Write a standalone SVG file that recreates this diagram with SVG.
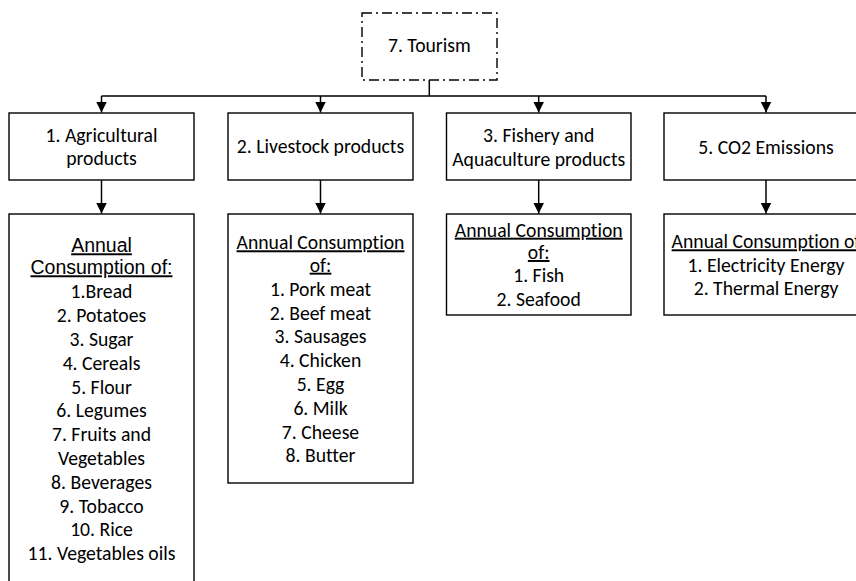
<svg xmlns="http://www.w3.org/2000/svg" width="856" height="581" viewBox="0 0 856 581">
  <style>
    .box { fill: #ffffff; stroke: #000000; stroke-width: 1.4; }
    .dash { fill: #ffffff; stroke: #000000; stroke-width: 1.4; stroke-dasharray: 10 4 2 4; }
    .wire { fill: none; stroke: #000000; stroke-width: 1.5; }
    text { font-family: Carlito, Lato, "Open Sans", sans-serif; font-size: 19.7px; fill: #000000; text-anchor: middle; font-variant-ligatures: none; }
    .hd { text-decoration: underline; }
    .arial { font-family: "Liberation Sans", Arial, sans-serif; font-size: 19.5px; }
  </style>
  <defs>
    <marker id="arrow" markerUnits="userSpaceOnUse" markerWidth="12" markerHeight="12" viewBox="0 0 12 12" refX="11" refY="6" orient="auto">
      <path d="M0,0.5 L11,6 L0,11.5 Z" fill="#000000"/>
    </marker>
  </defs>

  <!-- connectors -->
  <g id="connectors">
    <path class="wire" d="M429.3,80 V96 M101.5,96 H766"/>
    <path class="wire" d="M101.5,96 V112.5" marker-end="url(#arrow)"/>
    <path class="wire" d="M320.5,96 V112.5" marker-end="url(#arrow)"/>
    <path class="wire" d="M538.7,96 V112.5" marker-end="url(#arrow)"/>
    <path class="wire" d="M766,96 V112.5" marker-end="url(#arrow)"/>
    <path class="wire" d="M101.5,180 V213.5" marker-end="url(#arrow)"/>
    <path class="wire" d="M320.5,180 V213.5" marker-end="url(#arrow)"/>
    <path class="wire" d="M538.7,180 V213.5" marker-end="url(#arrow)"/>
    <path class="wire" d="M766,180 V213.5" marker-end="url(#arrow)"/>
  </g>

  <!-- root -->
  <g id="tourism">
    <rect class="dash" x="362" y="13" width="135" height="67"/>
    <text x="429.3" y="52.3">7. Tourism</text>
  </g>

  <!-- categories -->
  <g id="agricultural">
    <rect class="box" x="9" y="113" width="185" height="67"/>
    <text x="101.5" y="141.7">1. Agricultural</text>
    <text x="101.5" y="164.5">products</text>
  </g>
  <g id="livestock">
    <rect class="box" x="228" y="113" width="185" height="67"/>
    <text x="320.5" y="153.3">2. Livestock products</text>
  </g>
  <g id="fishery">
    <rect class="box" x="446.5" y="113" width="184.5" height="67"/>
    <text x="538.7" y="142.3">3. Fishery and</text>
    <text x="538.7" y="166">Aquaculture products</text>
  </g>
  <g id="co2">
    <rect class="box" x="664" y="113" width="210" height="67"/>
    <text x="766" y="154">5. CO2 Emissions</text>
  </g>

  <!-- consumption lists -->
  <g id="agricultural-list">
    <rect class="box" x="9" y="214" width="185" height="380"/>
    <text class="hd arial" x="101.5" y="252.3">Annual</text>
    <text class="hd arial" x="101.5" y="274.3">Consumption of:</text>
    <text x="101.5" y="298.3">1.Bread</text>
    <text x="101.5" y="322.1">2. Potatoes</text>
    <text x="101.5" y="345.9">3. Sugar</text>
    <text x="101.5" y="369.7">4. Cereals</text>
    <text x="101.5" y="393.5">5. Flour</text>
    <text x="101.5" y="417.3">6. Legumes</text>
    <text x="101.5" y="441.1">7. Fruits and</text>
    <text x="101.5" y="464.9">Vegetables</text>
    <text x="101.5" y="488.7">8. Beverages</text>
    <text x="101.5" y="512.5">9. Tobacco</text>
    <text x="101.5" y="536.3">10. Rice</text>
    <text x="101.5" y="560.1">11. Vegetables oils</text>
  </g>
  <g id="livestock-list">
    <rect class="box" x="228" y="214" width="185" height="269"/>
    <text class="hd" x="320.5" y="249.3">Annual Consumption</text>
    <text class="hd" x="320.5" y="271.7">of:</text>
    <text x="320.5" y="295.7">1. Pork meat</text>
    <text x="320.5" y="319.5">2. Beef meat</text>
    <text x="320.5" y="343.3">3. Sausages</text>
    <text x="320.5" y="367.1">4. Chicken</text>
    <text x="320.5" y="390.9">5. Egg</text>
    <text x="320.5" y="414.7">6. Milk</text>
    <text x="320.5" y="438.5">7. Cheese</text>
    <text x="320.5" y="462.3">8. Butter</text>
  </g>
  <g id="fishery-list">
    <rect class="box" x="446.5" y="214" width="184.5" height="101"/>
    <text class="hd" x="538.7" y="236.7">Annual Consumption</text>
    <text class="hd" x="538.7" y="259">of:</text>
    <text x="538.7" y="282.3">1. Fish</text>
    <text x="538.7" y="305.7">2. Seafood</text>
  </g>
  <g id="co2-list">
    <rect class="box" x="664" y="214" width="210" height="101"/>
    <text class="hd" x="766" y="248.3">Annual Consumption of</text>
    <text x="766" y="271.7">1. Electricity Energy</text>
    <text x="766" y="295">2. Thermal Energy</text>
  </g>
</svg>
